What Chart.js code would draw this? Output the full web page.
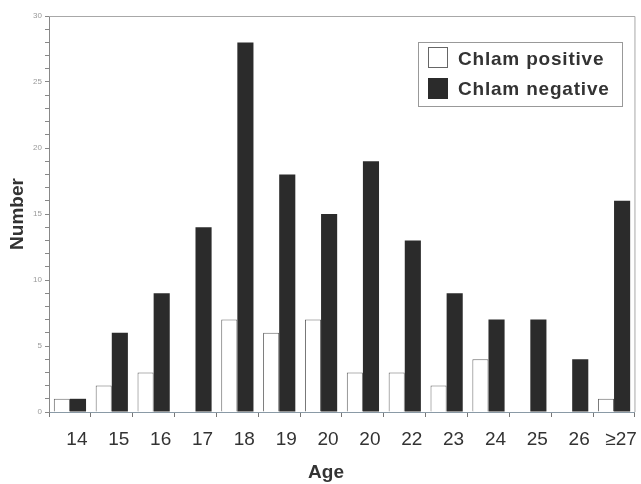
<!DOCTYPE html>
<html>
<head>
<meta charset="utf-8">
<script src="https://cdn.jsdelivr.net/npm/chart.js@4/dist/chart.umd.min.js"></script>
<style>
  html, body { margin: 0; padding: 0; background: #fff; }
  #wrap { width: 641px; height: 484px; position: relative; }
</style>
</head>
<body>
<div id="wrap"><canvas id="ageChart"></canvas></div>
<script>
// Age groups (the second "20" is printed that way in the original figure)
const ageLabels = ['14', '15', '16', '17', '18', '19', '20', '20', '22', '23', '24', '25', '26', '\u226527'];
const chlamPositive = [1, 2, 3, 0, 7, 6, 7, 3, 3, 2, 4, 0, 0, 1];
const chlamNegative = [1, 6, 9, 14, 28, 18, 15, 19, 13, 9, 7, 7, 4, 16];
const yTicksMajor = [0, 5, 10, 15, 20, 25, 30];
const xTitle = 'Age';

const FONT = "'Liberation Sans', Arial, Helvetica, sans-serif";

// frame lines on top and right of the plot area
const framePlugin = {
    id: 'frame',
    afterDraw(chart) {
        const { ctx, chartArea } = chart;
        ctx.save();
        ctx.strokeStyle = '#a8a8a8';
        ctx.lineWidth = 1;
        ctx.beginPath();
        ctx.moveTo(chartArea.left, chartArea.top + 0.5);
        ctx.lineTo(chartArea.right, chartArea.top + 0.5);
        ctx.lineTo(chartArea.right, chartArea.bottom);
        ctx.stroke();
        ctx.restore();
    }
};

// x axis title sits a little left of centre in the original
const xTitlePlugin = {
    id: 'xTitle',
    afterDraw(chart) {
        const ctx = chart.ctx;
        ctx.save();
        ctx.font = 'bold 19px ' + FONT;
        ctx.fillStyle = '#333';
        ctx.textAlign = 'center';
        ctx.textBaseline = 'alphabetic';
        ctx.fillText(xTitle, 326, 478);
        ctx.restore();
    }
};

// boxed legend drawn inside the plot, like the original
const boxLegendPlugin = {
    id: 'boxLegend',
    afterDraw(chart) {
        const ctx = chart.ctx;
        const x = 418, y = 42, w = 204, h = 64;
        ctx.save();
        ctx.fillStyle = '#fff';
        ctx.fillRect(x, y, w, h);
        ctx.strokeStyle = '#999';
        ctx.lineWidth = 1;
        ctx.strokeRect(x + 0.5, y + 0.5, w, h);
        ctx.font = 'bold 19px ' + FONT;
        ctx.letterSpacing = '0.8px';
        ctx.textBaseline = 'alphabetic';
        chart.data.datasets.forEach((ds, i) => {
            const sy = 47 + i * 31;
            ctx.fillStyle = ds.backgroundColor;
            ctx.fillRect(428, sy, 20, 21);
            ctx.strokeStyle = ds.borderColor;
            ctx.strokeRect(428.5, sy + 0.5, 19, 20);
            ctx.fillStyle = '#333';
            ctx.fillText(ds.label, 458, 65 + i * 30);
        });
        ctx.restore();
    }
};

const config = {
    type: 'bar',
    data: {
        labels: ageLabels,
        datasets: [
            {
                label: 'Chlam positive',
                data: chlamPositive,
                backgroundColor: '#ffffff',
                borderColor: '#666666',
                borderWidth: 1,
                categoryPercentage: 0.77,
                barPercentage: 1.0
            },
            {
                label: 'Chlam negative',
                data: chlamNegative,
                backgroundColor: '#2b2b2b',
                borderColor: '#2b2b2b',
                borderWidth: 0,
                categoryPercentage: 0.77,
                barPercentage: 1.0
            }
        ]
    },
    options: {
        responsive: false,
        animation: false,
        devicePixelRatio: 1,
        layout: {
            padding: { top: 16, right: 5, left: 0, bottom: 0 }
        },
        plugins: {
            legend: { display: false },
            tooltip: { enabled: false },
            title: { display: false }
        },
        scales: {
            x: {
                grid: {
                    offset: true,
                    drawOnChartArea: false,
                    drawTicks: true,
                    tickLength: 5,
                    color: '#777'
                },
                border: { display: true, color: '#8a9aa6', width: 1 },
                ticks: {
                    color: '#333',
                    padding: 11,
                    labelOffset: 7,
                    maxRotation: 0,
                    autoSkip: false,
                    font: { family: FONT, size: 19 }
                },
                title: { display: false },
                afterFit(scale) { scale.height = 72; }
            },
            y: {
                min: 0,
                max: 30,
                grid: {
                    drawOnChartArea: false,
                    drawTicks: true,
                    tickLength: 4,
                    color: '#888'
                },
                border: { display: true, color: '#888', width: 1 },
                ticks: {
                    stepSize: 1,
                    color: '#999',
                    padding: 3,
                    autoSkip: false,
                    font: { family: FONT, size: 8 },
                    callback: function(value) {
                        return yTicksMajor.includes(value) ? value : '';
                    }
                },
                title: {
                    display: true,
                    text: 'Number',
                    color: '#333',
                    font: { family: FONT, size: 19, weight: 'bold' },
                    padding: { top: 6, bottom: 0 }
                },
                afterFit(scale) { scale.width = 49; }
            }
        }
    },
    plugins: [framePlugin, xTitlePlugin, boxLegendPlugin]
};

const canvas = document.getElementById('ageChart');
canvas.width = 641;
canvas.height = 484;
new Chart(canvas, config);
</script>
</body>
</html>
